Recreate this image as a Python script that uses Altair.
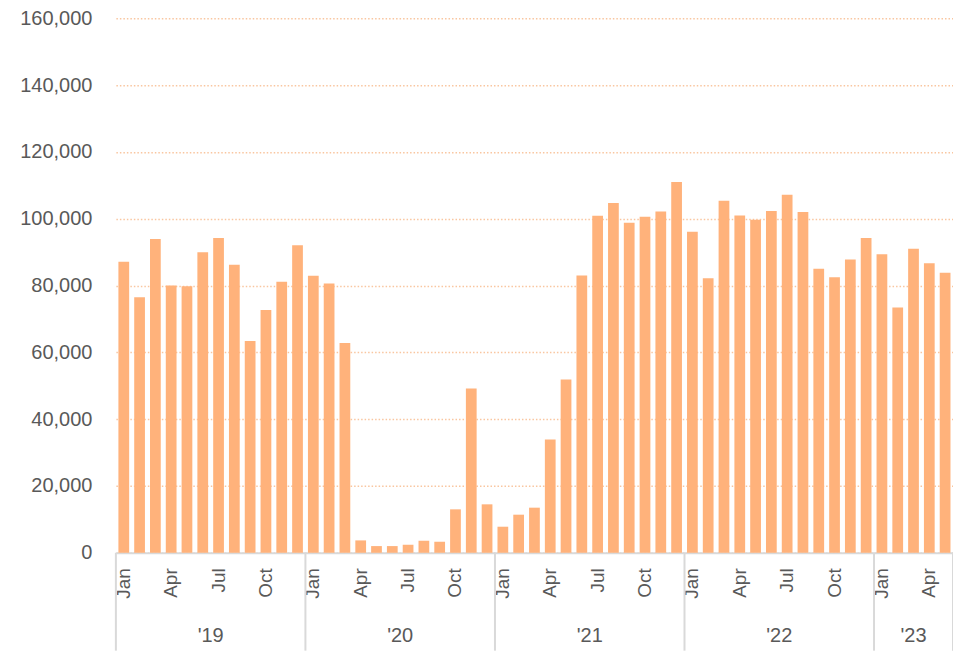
import altair as alt
import pandas as pd

month_names = ["Jan", "Feb", "Mar", "Apr", "May", "Jun",
               "Jul", "Aug", "Sep", "Oct", "Nov", "Dec"]
years = [2019] * 12 + [2020] * 12 + [2021] * 12 + [2022] * 12 + [2023] * 5
months = month_names * 4 + month_names[:5]
values = [
    87100, 76500, 93900, 80000, 79800, 90000, 94200, 86200, 63400, 72700, 81100, 92100,
    82900, 80600, 62800, 3700, 2000, 2000, 2400, 3600, 3300, 13000, 49200, 14500,
    7800, 11400, 13500, 33900, 51900, 83000, 100900, 104700, 98800, 100600, 102200, 111000,
    96100, 82200, 105400, 101000, 99700, 102300, 107200, 102000, 85000, 82500, 87800, 94200,
    89400, 73400, 91000, 86700, 83800,
]
year_labels = ["'19", "'20", "'21", "'22", "'23"]
y_ticks = [0, 20000, 40000, 60000, 80000, 100000, 120000, 140000, 160000]

keys = [f"{y}-{m}" for y, m in zip(years, months)]
df = pd.DataFrame({"key": keys, "value": values})

FONT = "Liberation Sans"
GREY = "#595959"
LINE = "#D9D9D9"
H = 535

xscale = alt.Scale(domain=keys, paddingInner=0, paddingOuter=0)

bars = alt.Chart(df).mark_bar(
    color="#FFB27B", width=alt.RelativeBandSize(0.68)
).encode(
    x=alt.X("key:N", scale=xscale, title=None,
            axis=alt.Axis(
                labelAngle=270, labelFont=FONT, labelFontSize=19, labelColor=GREY,
                labelPadding=15, ticks=False, tickSize=0, grid=False,
                domainColor=LINE, domainWidth=2, labelOverlap=False,
                labelExpr="indexof(['Jan','Apr','Jul','Oct'], split(datum.value,'-')[1]) >= 0 ? split(datum.value,'-')[1] : ''",
            )),
    y=alt.Y("value:Q", scale=alt.Scale(domain=[0, 160000], nice=False), title=None,
            axis=alt.Axis(
                values=y_ticks, format=",.0f", labelFont=FONT, labelFontSize=20,
                labelColor=GREY, labelPadding=24, ticks=False, tickSize=0, domain=False,
                gridColor="#F9C6A0", gridDash=[1.5, 2], gridWidth=1.5,
            )),
)

sep_df = pd.DataFrame({"key": [f"{y}-Jan" for y in [2019, 2020, 2021, 2022, 2023]]})
seps = alt.Chart(sep_df).mark_rule(color=LINE, strokeWidth=2).encode(
    x=alt.X("key:N", scale=xscale, bandPosition=0),
    y=alt.value(H), y2=alt.value(H + 98),
)
end_df = pd.DataFrame({"key": [keys[-1]]})
end_sep = alt.Chart(end_df).mark_rule(color=LINE, strokeWidth=2).encode(
    x=alt.X("key:N", scale=xscale, bandPosition=1),
    y=alt.value(H), y2=alt.value(H + 98),
)

full_df = pd.DataFrame({"key": [f"{y}-Jul" for y in [2019, 2020, 2021, 2022]],
                        "label": year_labels[:4]})
yl_full = alt.Chart(full_df).mark_text(
    font=FONT, fontSize=20, color=GREY, baseline="middle", align="center"
).encode(
    x=alt.X("key:N", scale=xscale, bandPosition=0),
    y=alt.value(H + 83), text="label:N",
)
part_df = pd.DataFrame({"key": ["2023-Mar"], "label": [year_labels[4]]})
yl_part = alt.Chart(part_df).mark_text(
    font=FONT, fontSize=20, color=GREY, baseline="middle", align="center"
).encode(
    x=alt.X("key:N", scale=xscale, bandPosition=0.5),
    y=alt.value(H + 83), text="label:N",
)

chart = alt.layer(bars, seps, end_sep, yl_full, yl_part).properties(
    width=838, height=H,
    background="white",
    autosize=alt.AutoSizeParams(type="none"),
    padding={"left": 108, "top": 10, "right": 0, "bottom": 98},
).configure_view(strokeWidth=0, stroke="transparent")

chart.save("out.html", embed_options={"renderer": "svg", "actions": False})
